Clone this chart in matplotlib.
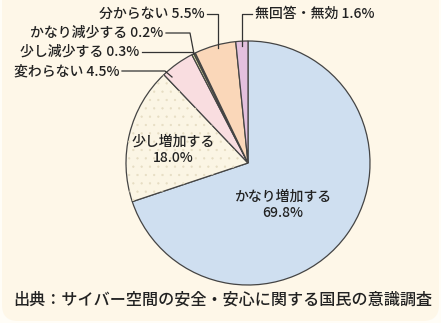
import matplotlib

matplotlib.use("Agg")
import matplotlib.pyplot as plt
from matplotlib.patches import FancyBboxPatch, Wedge
import numpy as np

plt.rcParams["font.family"] = ["Noto Sans CJK JP", "DejaVu Sans"]
plt.rcParams["hatch.linewidth"] = 0.4

# 回答の内訳（%）
labels = ["かなり増加する", "少し増加する", "変わらない", "少し減少する", "かなり減少する", "分からない", "無回答・無効"]
values = [69.8, 18.0, 4.5, 0.3, 0.2, 5.5, 1.6]
colors = ["#cfdff0", "#fbf5e4", "#f9dde0", "#dfe5a6", "#8e9a5a", "#fad7b9", "#e3c0de"]
source = "出典：サイバー空間の安全・安心に関する国民の意識調査"

W, H = 441, 323
fig = plt.figure(figsize=(W / 100, H / 100), dpi=100)
fig.patch.set_facecolor("#fffdf7")
ax = fig.add_axes([0, 0, 1, 1])


def py(y):
    # 画像座標（上から）をデータ座標へ
    return H - y


ax.add_patch(FancyBboxPatch((2, 2), W - 4, H + 30, boxstyle="round,pad=0,rounding_size=16",
                            facecolor="#fef7e8", edgecolor="none", zorder=0))

cx, cy, r = 248, py(163), 122
wedges, _ = ax.pie(values, colors=colors, startangle=90, counterclock=False,
                   center=(cx, cy), radius=r, frame=True,
                   wedgeprops=dict(edgecolor="#444444", linewidth=0.9))
ax.set_xlim(0, W)
ax.set_ylim(0, H)
ax.set_aspect("equal")
ax.axis("off")
for w in wedges:
    w.set_zorder(2)

# 「少し増加する」は点描
w1 = wedges[1]
ax.add_patch(Wedge((cx, cy), r, w1.theta1, w1.theta2, facecolor="none",
                   edgecolor="#e6ddc3", hatch="..", linewidth=0, zorder=2.5))

txt = dict(fontsize=10, color="#222222", fontweight="medium")
lc = dict(color="#333333", linewidth=0.9, zorder=3)

# 内側ラベル
ax.text(173, py(150), f"{labels[1]}\n{values[1]:.1f}%", ha="center", va="center",
        linespacing=1.25, zorder=4, **txt)
ax.text(283, py(205), f"{labels[0]}\n{values[0]:.1f}%", ha="center", va="center",
        linespacing=1.25, zorder=4, **txt)

# 外側ラベルと引き出し線
ax.text(205, py(14), f"{labels[5]} {values[5]}%", ha="right", va="center", **txt)
ax.plot([207, 218, 218], [py(14), py(14), py(48)], **lc)

ax.text(255, py(14), f"{labels[6]} {values[6]}%", ha="left", va="center", **txt)
ax.plot([252, 242, 242], [py(14), py(14), py(46)], **lc)

ax.text(163, py(33), f"{labels[4]} {values[4]}%", ha="right", va="center", **txt)
ax.plot([166, 190, 194], [py(33), py(33), py(54)], **lc)

ax.text(139, py(52), f"{labels[3]} {values[3]}%", ha="right", va="center", **txt)
ax.plot([142, 193], [py(52), py(52)], **lc)

ax.text(119, py(71), f"{labels[2]} {values[2]}%", ha="right", va="center", **txt)
ax.plot([122, 165, 172], [py(71), py(71), py(77)], **lc)

ax.text(13, py(300), source, ha="left", va="center", fontsize=11.6, color="#222222",
        fontweight="medium")

fig.savefig("out.png", dpi=100, facecolor=fig.get_facecolor())
plt.close(fig)
